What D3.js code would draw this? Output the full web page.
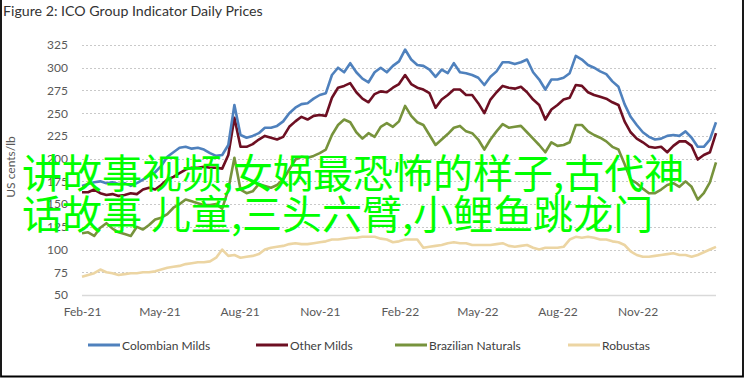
<!DOCTYPE html>
<html><head><meta charset="utf-8">
<script src="https://cdn.jsdelivr.net/npm/d3@7"></script>
<style>
html,body{margin:0;padding:0;background:#fff;}
svg{display:block;}
</style></head>
<body>
<svg id="chart" width="745" height="378"></svg>
<script>
// ---- data (weekly samples) ----
const startDate = "2021-02-01";
const seriesNames = ["Colombian Milds", "Other Milds", "Brazilian Naturals", "Robustas"];
const colombianMilds = [170,172,174,175,173,174,172,173,170,173,177,181,185,192,202,207,212,213,211,212,210,206,203,204,215,259,226,223,225,228,234,234,236,241,250,256,260,261,266,270,272,292,300,295,305,295,288,284,295,300,295,302,307,320,309,303,302,298,290,298,294,305,295,294,292,289,281,290,296,306,306,304,306,309,295,287,276,287,287,289,294,313,309,303,300,296,293,285,279,260,246,237,229,224,221,222,225,226,225,230,223,213,213,221,240];
const otherMilds = [163,163,166,162,160,161,159,160,162,161,166,168,166,171,177,180,184,188,190,190,191,190,190,189,204,245,213,213,216,221,225,223,221,224,235,241,246,243,247,248,247,267,278,280,283,273,266,262,271,274,273,278,282,292,282,278,276,272,256,265,270,276,276,270,270,261,250,265,273,280,278,277,279,273,265,259,243,254,259,265,267,281,280,273,270,268,266,262,259,241,229,222,218,213,212,213,207,214,219,219,214,199,204,207,228];
const brazilianNaturals = [118,119,115,124,129,123,119,117,115,125,122,127,133,135,139,146,150,155,153,151,149,149,150,145,166,201,166,162,164,172,170,168,171,177,188,199,202,201,203,206,210,226,237,243,240,229,222,228,224,235,239,235,241,258,247,240,237,226,215,221,227,234,236,230,228,221,210,221,230,238,234,235,236,229,222,215,207,218,214,215,218,237,237,230,226,223,219,213,210,194,177,173,167,162,162,166,171,173,169,175,169,155,162,174,196];
const robustas = [70,72,74,78,75,74,72,73,74,74,75,75,76,78,80,81,82,84,85,86,86,87,91,100,93,94,91,92,93,95,100,102,103,104,106,107,106,106,107,108,109,111,111,112,113,113,114,114,114,112,111,108,109,111,111,111,102,103,104,105,107,108,107,107,105,105,105,105,106,107,104,103,104,105,102,100,102,102,102,103,111,114,113,114,113,111,111,109,108,105,98,94,92,92,93,94,95,96,94,94,92,94,97,100,103];
const seriesValues = [colombianMilds, otherMilds, brazilianNaturals, robustas];
const seriesColors = ["#4f81bd", "#6d0f22", "#77933c", "#ecd5a3"];
const yTicks = [50,75,100,125,150,175,200,225,250,275,300,325];
const xTickLabels = ["Feb-21","May-21","Aug-21","Nov-21","Feb-22","May-22","Aug-22","Nov-22"];
const titleText = "Figure 2: ICO Group Indicator Daily Prices";
const yAxisTitle = "US cents/lb";
const overlayLines = ["讲故事视频,女娲最恐怖的样子,古代神", "话故事 儿童,三头六臂,小鲤鱼跳龙门"];

// ---- layout ----
const W = 745, H = 378;
const plot = {left: 82, right: 716, top: 45, bottom: 295};
const font = "Lato, 'Open Sans', sans-serif";

const svg = d3.select("#chart");
svg.append("rect").attr("width", W).attr("height", H).attr("fill", "#fff");

const parseISO = d3.timeParse("%Y-%m-%d");
const parseTick = d3.timeParse("%b-%y");
const t0 = parseISO(startDate);
const dates = colombianMilds.map((_, i) => d3.timeDay.offset(t0, 7 * i));

const x = d3.scaleTime().domain([dates[0], dates[dates.length - 1]]).range([plot.left, plot.right]);
const y = d3.scaleLinear().domain([50, 325]).range([plot.bottom, plot.top]);

// gridlines
svg.append("g").selectAll("line").data(yTicks.filter(d => d > 50)).join("line")
  .attr("x1", plot.left).attr("x2", plot.right)
  .attr("y1", d => Math.round(y(d)) + 0.5).attr("y2", d => Math.round(y(d)) + 0.5)
  .attr("stroke", "#c9c9c9").attr("stroke-width", 1.2).attr("stroke-dasharray", "2,2");
svg.append("line").attr("x1", plot.left).attr("x2", plot.right)
  .attr("y1", y(50) + 0.5).attr("y2", y(50) + 0.5)
  .attr("stroke", "#d9d9d9").attr("stroke-width", 1.3);

// y axis
const yAxis = svg.append("g").attr("transform", `translate(${plot.left},0)`)
  .call(d3.axisLeft(y).tickValues(yTicks).tickSize(0).tickPadding(14));
yAxis.select(".domain").remove();
yAxis.selectAll("text").attr("font-family", font).attr("font-size", 12).attr("fill", "#595959");

// x axis
const xAxis = svg.append("g").attr("transform", `translate(0,${plot.bottom})`)
  .call(d3.axisBottom(x).tickValues(xTickLabels.map(parseTick)).tickFormat(d3.timeFormat("%b-%y")).tickSize(0).tickPadding(12));
xAxis.select(".domain").remove();
xAxis.selectAll("text").attr("font-family", font).attr("font-size", 12).attr("fill", "#595959");

// y axis title
svg.append("text").attr("transform", "translate(15,167) rotate(-90)")
  .attr("text-anchor", "middle").attr("font-family", font).attr("font-size", 12)
  .attr("fill", "#595959").text(yAxisTitle);

// lines (Robustas drawn first, then others)
const line = d3.line().x((d, i) => x(dates[i])).y(d => y(d));
const order = [3, 2, 1, 0];
svg.append("g").selectAll("path").data(order).join("path")
  .attr("d", k => line(seriesValues[k]))
  .attr("fill", "none").attr("stroke", k => seriesColors[k])
  .attr("stroke-width", 2.6).attr("stroke-linejoin", "round");

// title
svg.append("text").attr("x", 3).attr("y", 16).attr("font-family", font).attr("font-size", 14.2)
  .attr("fill", "#333").text(titleText);

// legend
const legendX = [88, 256, 395, 568];
const lg = svg.append("g").selectAll("g").data(seriesNames).join("g")
  .attr("transform", (d, i) => `translate(${legendX[i]},345)`);
lg.append("line").attr("x1", 0).attr("x2", 32).attr("y1", 0).attr("y2", 0)
  .attr("stroke", (d, i) => seriesColors[i]).attr("stroke-width", 3);
lg.append("text").attr("x", 34).attr("y", 4.5).attr("font-family", font).attr("font-size", 12)
  .attr("fill", "#404040").text(d => d);

// frame
svg.append("path").attr("d", `M1,0 V376.5 H743 V0`).attr("fill", "none")
  .attr("stroke", "#000").attr("stroke-width", 1.8);

// overlay text
svg.append("g").selectAll("text").data(overlayLines).join("text")
  .attr("x", 22).attr("y", (d, i) => 188 + i * 41)
  .attr("font-family", "'Noto Sans CJK SC', sans-serif").attr("font-size", 40)
  .attr("fill", "#00ff00").text(d => d);
</script>
</body></html>
